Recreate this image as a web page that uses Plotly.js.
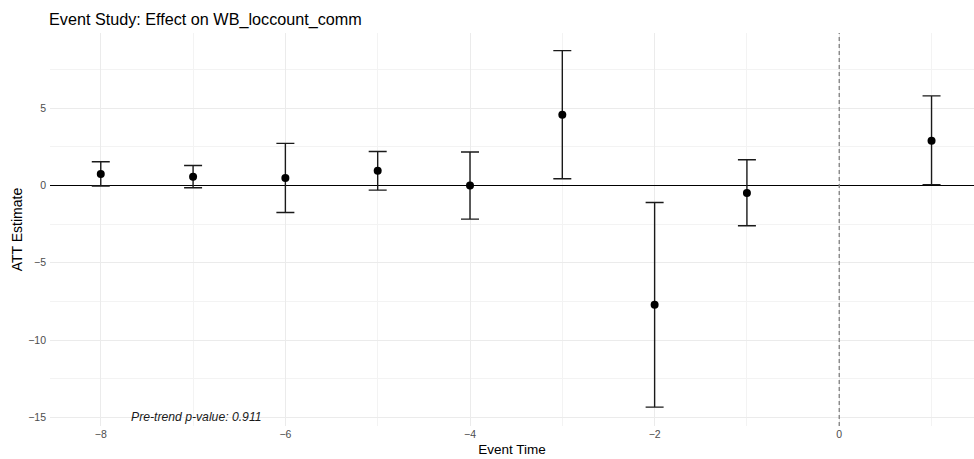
<!DOCTYPE html>
<html>
<head>
<meta charset="utf-8">
<script src="https://cdn.plot.ly/plotly-3.0.1.min.js"></script>
<style>html,body{margin:0;padding:0;background:#fff;}</style>
</head>
<body>
<div id="chart" style="width:974px;height:459px;"></div>
<script>
const eventTime = [-8, -7, -6, -5, -4, -3, -2, -1, 1];
const att = [0.74, 0.56, 0.48, 0.95, 0.0, 4.58, -7.72, -0.49, 2.89];
const ciUpper = [1.53, 1.29, 2.72, 2.20, 2.16, 8.72, -1.10, 1.66, 5.79];
const ciLower = [-0.04, -0.15, -1.75, -0.30, -2.18, 0.43, -14.34, -2.61, 0.05];
const pretrendLabel = "Pre-trend p-value: 0.911";

const trace = {
  x: eventTime,
  y: att,
  type: 'scatter',
  mode: 'markers',
  marker: {color: '#000000', size: 8},
  error_y: {
    type: 'data',
    symmetric: false,
    array: att.map((v, i) => ciUpper[i] - v),
    arrayminus: att.map((v, i) => v - ciLower[i]),
    color: '#1a1a1a',
    thickness: 1.4,
    width: 9
  },
  hoverinfo: 'x+y'
};

const layout = {
  width: 974,
  height: 459,
  margin: {l: 50, r: 0, t: 33, b: 33},
  paper_bgcolor: '#ffffff',
  plot_bgcolor: '#ffffff',
  font: {family: 'Liberation Sans, Arial, sans-serif', color: '#4d4d4d'},
  title: {
    text: 'Event Study: Effect on WB_loccount_comm',
    x: 49 / 974, xref: 'container', xanchor: 'left',
    y: 1 - 19 / 459, yref: 'container', yanchor: 'middle',
    font: {size: 16.2, color: '#000000'}
  },
  showlegend: false,
  xaxis: {
    range: [-8.55, 1.46],
    tick0: 0, dtick: 2,
    showgrid: true, gridcolor: '#ebebeb', gridwidth: 1,
    minor: {tick0: 1, dtick: 2, showgrid: true, gridcolor: '#f3f3f3', gridwidth: 1},
    zeroline: false, showline: false, ticks: '',
    tickfont: {size: 10.5, color: '#4d4d4d'},
    title: {text: 'Event Time', font: {size: 13.5, color: '#000000'}, standoff: 6}
  },
  yaxis: {
    range: [-15.56, 9.86],
    tick0: 0, dtick: 5,
    showgrid: true, gridcolor: '#ebebeb', gridwidth: 1,
    minor: {tick0: 2.5, dtick: 5, showgrid: true, gridcolor: '#f3f3f3', gridwidth: 1},
    zeroline: true, zerolinecolor: '#000000', zerolinewidth: 1.5,
    showline: false, ticks: '',
    ticklabelstandoff: 3,
    tickfont: {size: 10.5, color: '#4d4d4d'},
    title: {text: 'ATT Estimate', font: {size: 14, color: '#000000'}, standoff: 2}
  },
  shapes: [
    {type: 'line', xref: 'x', x0: 0, x1: 0, yref: 'paper', y0: 0, y1: 1,
     line: {color: '#7f7f7f', width: 1.3, dash: '4px,3px'}, layer: 'above'}
  ],
  annotations: [
    {x: -7, y: -15, xref: 'x', yref: 'y', xshift: 3, text: '<i>' + pretrendLabel + '</i>',
     showarrow: false, xanchor: 'center', yanchor: 'middle',
     font: {size: 12.2, color: '#1a1a1a'}}
  ]
};

Plotly.newPlot('chart', [trace], layout, {displayModeBar: false, staticPlot: true});
</script>
</body>
</html>
